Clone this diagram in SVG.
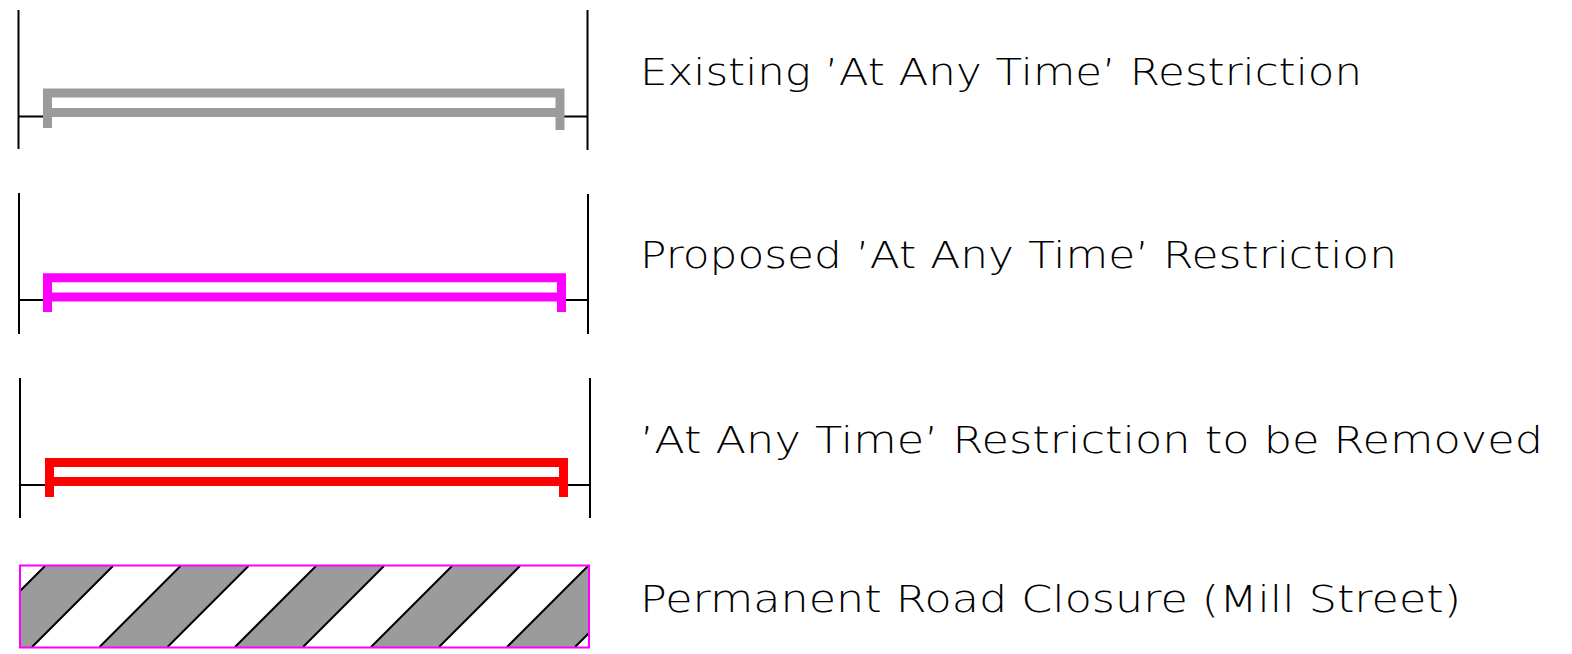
<svg xmlns="http://www.w3.org/2000/svg" width="1572" height="654" viewBox="0 0 1572 654">
<style>
.ref{stroke:#000;stroke-width:2;fill:none}
.bar{fill:none;stroke-width:9;stroke-linecap:butt;stroke-linejoin:miter}
.lbl{font-family:"DejaVu Sans","Liberation Sans",sans-serif;font-weight:200;font-size:38px;fill:#000}
.hl{stroke:#000;stroke-width:2}
</style>
<defs>
<clipPath id="clip"><rect x="20" y="565.5" width="569" height="82"/></clipPath>
</defs>
<rect width="1572" height="654" fill="#fff"/>
<g id="existing">
<path class="ref" d="M18.5,10V149M587.5,10V150M18,116.5H43M564,116.5H588"/>
<path class="bar" stroke="#9b9b9b" stroke-width="8" d="M47.5,128V93H560V130M47.5,112.5H560"/>
<text class="lbl" x="640" y="85" textLength="722" lengthAdjust="spacingAndGlyphs">Existing ’At Any Time’ Restriction</text>
</g>
<g id="proposed">
<path class="ref" d="M19,193V334M588,194V334M19,300H43M566,300H588"/>
<path class="bar" stroke="#ff00ff" d="M47.5,312V277.8H561.5V312M47.5,297H561.5"/>
<text class="lbl" x="640" y="268" textLength="757" lengthAdjust="spacingAndGlyphs">Proposed ’At Any Time’ Restriction</text>
</g>
<g id="removed">
<path class="ref" d="M20,378V518M590,378V518M20,485H45M568,485H590"/>
<path class="bar" stroke="#ff0000" d="M49.5,497V462.5H563.5V497M49.5,481.5H563.5"/>
<text class="lbl" x="640" y="453" textLength="903" lengthAdjust="spacingAndGlyphs">’At Any Time’ Restriction to be Removed</text>
</g>
<g id="closure">
<g clip-path="url(#clip)">
<path fill="#9b9b9b" d="M-91,566H-23L-104,647H-172Z M45,566H113L32,647H-36Z M180.5,566H248.5L167.5,647H99.5Z M316,566H384L303,647H235Z M452,566H520L439,647H371Z M588,566H656L575,647H507Z"/>
<path class="hl" d="M-23,566L-104,647M45,566L-36,647M113,566L32,647M180.5,566L99.5,647M248.5,566L167.5,647M316,566L235,647M384,566L303,647M452,566L371,647M520,566L439,647M588,566L507,647M656,566L575,647"/>
</g>
<rect x="20" y="565.5" width="569" height="82" fill="none" stroke="#ff00ff" stroke-width="2"/>
<text class="lbl" x="640" y="612" textLength="821" lengthAdjust="spacingAndGlyphs">Permanent Road Closure (Mill Street)</text>
</g>
</svg>
